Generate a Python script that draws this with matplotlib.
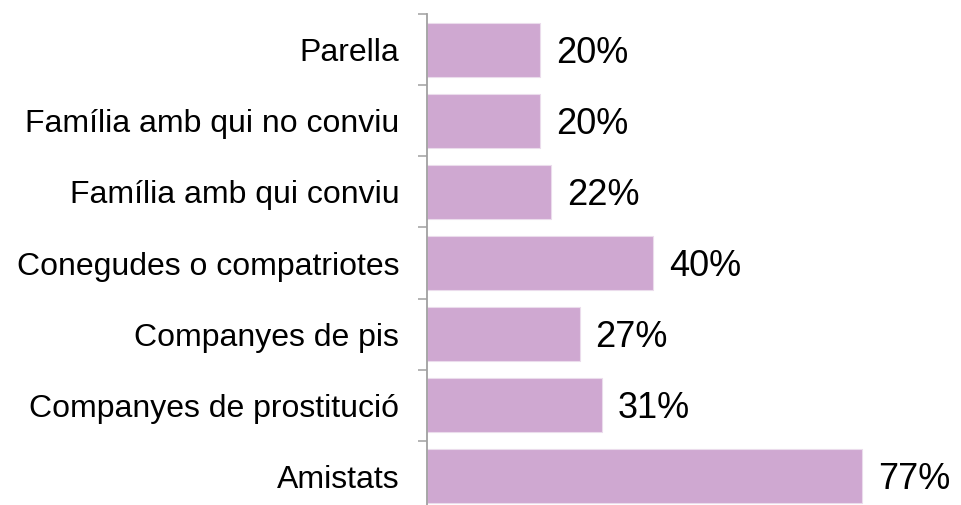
import matplotlib
matplotlib.use('Agg')
import matplotlib.pyplot as plt
import numpy as np

# categories listed bottom to top
categories = ['Amistats', 'Companyes de prostitució', 'Companyes de pis',
              'Conegudes o compatriotes', 'Família amb qui conviu',
              'Família amb qui no conviu', 'Parella']
values = [77, 31, 27, 40, 22, 20, 20]

plt.rcParams['font.family'] = ['Liberation Sans', 'DejaVu Sans']

fig = plt.figure(figsize=(9.61, 5.05), dpi=100)
ax = fig.add_axes([427 / 961, -7 / 505, 534 / 961, 498 / 505])

positions = np.arange(len(categories))
ax.barh(positions, values, height=0.76, color='#CFA8D1', edgecolor='#EBDCEC', linewidth=0.8)

ax.set_xlim(0, 94.5)
ax.set_ylim(-0.5, len(categories) - 0.5)

for pos, val in zip(positions, values):
    ax.text(val + 2.8, pos - 0.05, f'{val}%', va='center', ha='left', fontsize=26)

ax.set_yticks(positions)
ax.set_yticklabels(categories, fontsize=23)
ax.tick_params(axis='y', which='major', length=0, pad=20)
ax.set_yticks(np.append(positions[:-1] + 0.5, len(categories) - 0.5), minor=True)
ax.tick_params(axis='y', which='minor', length=6.5, width=1.1, color='#A0A0A0', direction='out')

ax.set_xticks([])
for side in ['top', 'right', 'bottom']:
    ax.spines[side].set_visible(False)
ax.spines['left'].set_color('#A0A0A0')
ax.spines['left'].set_linewidth(1.3)

fig.savefig('out.png', dpi=100)
